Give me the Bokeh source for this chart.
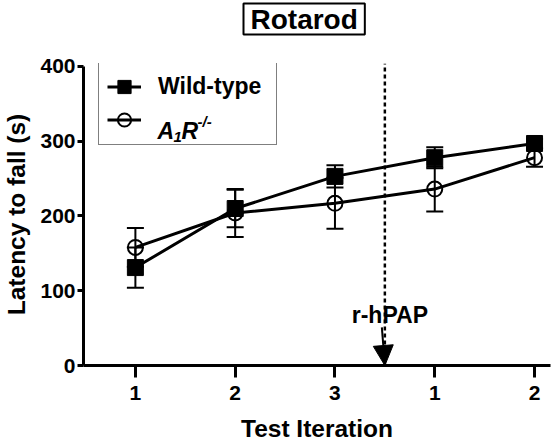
from bokeh.plotting import figure
from bokeh.models import (ColumnDataSource, Whisker, TeeHead, Legend, LegendItem, Label,
                          Arrow, NormalHead, Range1d, FixedTicker, Title)
from bokeh.embed import file_html
from bokeh.resources import INLINE

# ---- data ----
iteration_labels = ["1", "2", "3", "1", "2"]
y_ticks = [0, 100, 200, 300, 400]
wt_mean = [131, 210, 253, 278, 297]
wt_sem = [27, 25, 15, 14, 6]
ko_mean = [158, 204, 217, 236, 278]
ko_sem = [26, 32, 34, 30, 12]
series_names = ["Wild-type", "A1R-/-"]
chart_title = "Rotarod"
x_title = "Test Iteration"
y_title = "Latency to fall (s)"
treatment_position = 3.5
treatment_line_top = 404
treatment_label = "r-hPAP"
treatment_label_y = 67
arrow_start = (3.47, 51)

FONT = "Liberation Sans"
x = list(range(1, len(iteration_labels) + 1))


def make_source(mean, sem):
    return ColumnDataSource(dict(
        x=x, y=mean,
        upper=[m + s for m, s in zip(mean, sem)],
        lower=[m - s for m, s in zip(mean, sem)],
    ))


wt_src = make_source(wt_mean, wt_sem)
ko_src = make_source(ko_mean, ko_sem)

p = figure(width=556, height=445, output_backend="svg", toolbar_location=None,
           x_range=Range1d(0.48, 5.16), y_range=Range1d(0, treatment_line_top),
           min_border_left=82, min_border_right=6, min_border_top=63,
           min_border_bottom=80, title=None)
p.outline_line_color = None
p.xgrid.visible = False
p.ygrid.visible = False
p.background_fill_color = "white"
p.border_fill_color = "white"

# boxed title: an empty spacer title next to the frame, then the boxed title above it
spacer = Title(text=" ", text_font_size="2px", standoff=25, text_color="white")
p.add_layout(spacer, "above")
boxed = Title(text=chart_title, align="left", offset=160, standoff=0,
              text_font=FONT, text_font_style="bold", text_font_size="28px",
              text_color="black", border_line_color="black", border_line_width=2,
              background_fill_color="white", padding=(7, 0))
p.add_layout(boxed, "above")

# axes
for ax in (p.xaxis[0], p.yaxis[0]):
    ax.axis_line_width = 3
    ax.axis_line_color = "black"
    ax.major_tick_line_width = 3
    ax.major_tick_line_color = "black"
    ax.minor_tick_line_color = None
    ax.major_tick_in = 0
    ax.major_label_text_font = FONT
    ax.major_label_text_font_style = "bold"
    ax.major_label_text_font_size = "21px"
    ax.major_label_text_color = "black"
    ax.axis_label_text_font = FONT
    ax.axis_label_text_font_style = "bold"
    ax.axis_label_text_font_size = "24.5px"
    ax.axis_label_text_color = "black"

p.xaxis.ticker = FixedTicker(ticks=x)
p.xaxis.major_label_overrides = {xi: lab for xi, lab in zip(x, iteration_labels)}
p.xaxis.major_tick_out = 12
p.xaxis.major_label_standoff = 8
p.xaxis.axis_label = x_title
p.xaxis.axis_label_standoff = 12

p.yaxis.ticker = FixedTicker(ticks=y_ticks)
p.yaxis.bounds = (y_ticks[0], y_ticks[-1])
p.yaxis.major_tick_out = 6
p.yaxis.major_label_standoff = 2
p.yaxis.axis_label = y_title
p.yaxis.axis_label_standoff = 7

# treatment marker (dashed line)
p.segment(x0=[treatment_position], y0=[0], x1=[treatment_position], y1=[treatment_line_top],
          line_color="black", line_width=2.5, line_dash="4 3")

# series
wt_line = p.line("x", "y", source=wt_src, line_color="black", line_width=3)
ko_line = p.line("x", "y", source=ko_src, line_color="black", line_width=3)

for src in (wt_src, ko_src):
    p.add_layout(Whisker(source=src, base="x", upper="upper", lower="lower",
                         line_color="black", line_width=2,
                         upper_head=TeeHead(size=17, line_width=2, line_color="black"),
                         lower_head=TeeHead(size=17, line_width=2, line_color="black")))

ko_pts = p.scatter("x", "y", source=ko_src, marker="circle", size=15,
                   line_color="black", line_width=2, fill_alpha=0)
wt_pts = p.scatter("x", "y", source=wt_src, marker="square", size=16,
                   line_color="black", fill_color="black")

# treatment annotation
p.add_layout(Label(x=treatment_position + 0.05, y=treatment_label_y, text=treatment_label,
                   text_align="center", text_baseline="middle", text_font=FONT,
                   text_font_style="bold", text_font_size="23px", text_color="black"))
p.add_layout(Arrow(end=NormalHead(size=20, fill_color="black", line_color="black"),
                   x_start=arrow_start[0], y_start=arrow_start[1],
                   x_end=treatment_position, y_end=0,
                   line_color="black", line_width=2))

# legend
legend = Legend(items=[LegendItem(label=series_names[0], renderers=[wt_line, wt_pts]),
                       LegendItem(label=" ", renderers=[ko_line, ko_pts])],
                location=(15, 220), orientation="vertical",
                glyph_width=34, glyph_height=33, label_width=110, label_height=33,
                label_standoff=17, padding=8, spacing=0, margin=0,
                label_text_font=FONT, label_text_font_style="bold",
                label_text_font_size="23px", label_text_color="black",
                border_line_color="black", border_line_width=1.5,
                background_fill_alpha=0.0)
p.add_layout(legend)

# A1R-/- label pieces (italic, subscript 1, superscript -/-)
lbl_kw = dict(x_units="screen", y_units="screen", text_font=FONT,
              text_font_style="bold italic", text_color="black",
              text_baseline="alphabetic", text_align="left")
p.add_layout(Label(x=74, y=235, text="A", text_font_size="23px", **lbl_kw))
p.add_layout(Label(x=90, y=229, text="1", text_font_size="15px", **lbl_kw))
p.add_layout(Label(x=98, y=235, text="R", text_font_size="23px", **lbl_kw))
p.add_layout(Label(x=114, y=244, text="-/-", text_font_size="15px", **lbl_kw))

open("out.html", "w").write(file_html(p, INLINE))
